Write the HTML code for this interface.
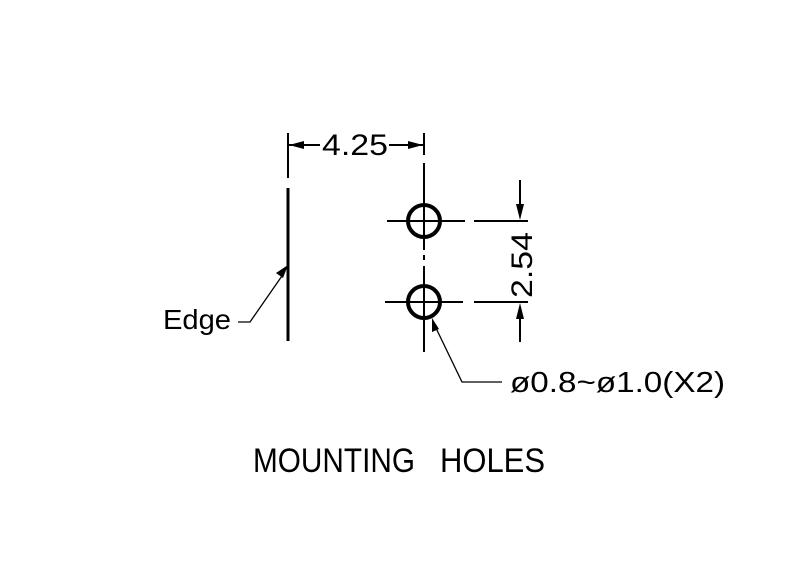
<!DOCTYPE html>
<html><head><style>html,body{margin:0;padding:0;background:#fff}svg{display:block}</style></head>
<body>
<svg width="800" height="576" viewBox="0 0 800 576" xmlns="http://www.w3.org/2000/svg" font-family="Liberation Sans, sans-serif">
<rect width="800" height="576" fill="#fff"/>
<g stroke="#000" fill="none">
<line x1="288" y1="188" x2="288" y2="341" stroke-width="3"/>
<line x1="288" y1="133" x2="288" y2="178" stroke-width="2"/>
<line x1="289" y1="145" x2="320" y2="145" stroke-width="2"/>
<line x1="389" y1="145" x2="423" y2="145" stroke-width="2"/>
<line x1="424" y1="133" x2="424" y2="155" stroke-width="2"/>
<line x1="424" y1="163" x2="424" y2="250" stroke-width="2"/>
<line x1="424" y1="255" x2="424" y2="260" stroke-width="2"/>
<line x1="424" y1="266" x2="424" y2="352" stroke-width="2"/>
<circle cx="424" cy="221" r="16" stroke-width="4"/>
<circle cx="424" cy="302" r="16" stroke-width="4"/>
<line x1="387" y1="221" x2="465" y2="221" stroke-width="2"/>
<line x1="474" y1="221" x2="528" y2="221" stroke-width="2"/>
<line x1="385" y1="302" x2="463" y2="302" stroke-width="2"/>
<line x1="474" y1="302" x2="528" y2="302" stroke-width="2"/>
<line x1="520" y1="180" x2="520" y2="210" stroke-width="2"/>
<line x1="520" y1="312" x2="520" y2="342" stroke-width="2"/>
<polyline points="238,322 250,322 284,273" stroke-width="1.3"/>
<polyline points="435,326 462,382 502,382" stroke-width="1.3"/>
</g>
<g fill="#000">
<polygon points="289,145 304,141 304,149"/>
<polygon points="423,145 408,141 408,149"/>
<polygon points="520,220 516,204 524,204"/>
<polygon points="520,303 516,319 524,319"/>
<polygon points="288,265 276,273 283,278"/>
<polygon points="432,318 432,332 439,329"/>
</g>
<g fill="#000">
<text x="322" y="155" font-size="30" textLength="66" lengthAdjust="spacingAndGlyphs">4.25</text>
<text transform="translate(532,298) rotate(-90)" font-size="30" textLength="66" lengthAdjust="spacingAndGlyphs">2.54</text>
<text x="163" y="329" font-size="28" textLength="68" lengthAdjust="spacingAndGlyphs">Edge</text>
<text x="510" y="392" font-size="29" textLength="215" lengthAdjust="spacingAndGlyphs">ø0.8~ø1.0(X2)</text>
<text x="253" y="472" font-size="34" textLength="162" lengthAdjust="spacingAndGlyphs">MOUNTING</text>
<text x="440" y="472" font-size="34" textLength="105" lengthAdjust="spacingAndGlyphs">HOLES</text>
</g>
</svg>
</body></html>
